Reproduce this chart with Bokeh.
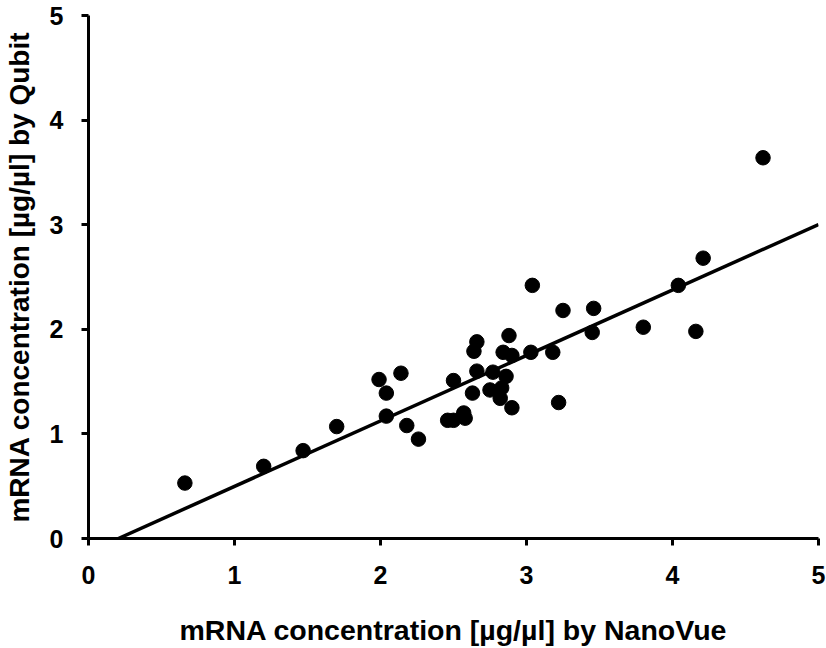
from bokeh.plotting import figure
from bokeh.models import Range1d, FixedTicker
from bokeh.embed import file_html
from bokeh.resources import INLINE

# NanoVue (x) vs Qubit (y) mRNA concentrations [µg/µl]
nanovue = [0.66, 1.20, 1.47, 1.70, 1.99, 2.04, 2.04, 2.14, 2.18, 2.26,
           2.46, 2.50, 2.50, 2.57, 2.58, 2.63, 2.64, 2.66, 2.66, 2.75,
           2.77, 2.82, 2.83, 2.84, 2.86, 2.88, 2.90, 2.90, 3.03, 3.04,
           3.18, 3.22, 3.25, 3.45, 3.46, 3.80, 4.04, 4.16, 4.21, 4.62]
qubit = [0.53, 0.69, 0.84, 1.07, 1.52, 1.39, 1.17, 1.58, 1.08, 0.95,
         1.13, 1.13, 1.51, 1.20, 1.15, 1.39, 1.79, 1.60, 1.88, 1.42,
         1.59, 1.34, 1.44, 1.78, 1.55, 1.94, 1.75, 1.25, 1.78, 2.42,
         1.78, 1.30, 2.18, 1.97, 2.20, 2.02, 2.42, 1.98, 2.68, 3.64]

# regression line
slope = 0.626
intercept = -0.128
x_end = 5.0

ticks = [0, 1, 2, 3, 4, 5]

p = figure(width=826, height=648, output_backend="svg", toolbar_location=None,
           x_range=Range1d(0, 5), y_range=Range1d(0, 5),
           min_border_left=88, min_border_right=8, min_border_top=15, min_border_bottom=107)
p.outline_line_color = None
p.grid.grid_line_color = None
p.background_fill_color = "white"
p.border_fill_color = "white"

x0 = -intercept / slope
p.line([x0, x_end], [slope * x0 + intercept, slope * x_end + intercept],
       line_color="black", line_width=3.5)
p.scatter(nanovue, qubit, size=14.5, color="black")

for ax in (p.xaxis[0], p.yaxis[0]):
    ax.ticker = FixedTicker(ticks=ticks)
    ax.axis_line_width = 3
    ax.axis_line_color = "black"
    ax.major_tick_line_width = 3
    ax.major_tick_in = 0
    ax.major_tick_out = 7
    ax.minor_tick_line_color = None
    ax.major_label_text_font = "Liberation Sans"
    ax.major_label_text_font_style = "bold"
    ax.major_label_text_font_size = "25px"
    ax.major_label_text_color = "black"
    ax.axis_label_text_font = "Liberation Sans"
    ax.axis_label_text_font_style = "bold"
    ax.axis_label_text_color = "black"

p.xaxis.axis_label = "mRNA concentration [µg/µl] by NanoVue"
p.yaxis.axis_label = "mRNA concentration [µg/µl] by Qubit"
p.xaxis.axis_label_text_font_size = "28.5px"
p.yaxis.axis_label_text_font_size = "28px"
p.xaxis.major_label_standoff = 20
p.xaxis.axis_label_standoff = 27
p.yaxis.major_label_standoff = 18
p.yaxis.axis_label_standoff = 12

open("out.html", "w").write(file_html(p, INLINE))
